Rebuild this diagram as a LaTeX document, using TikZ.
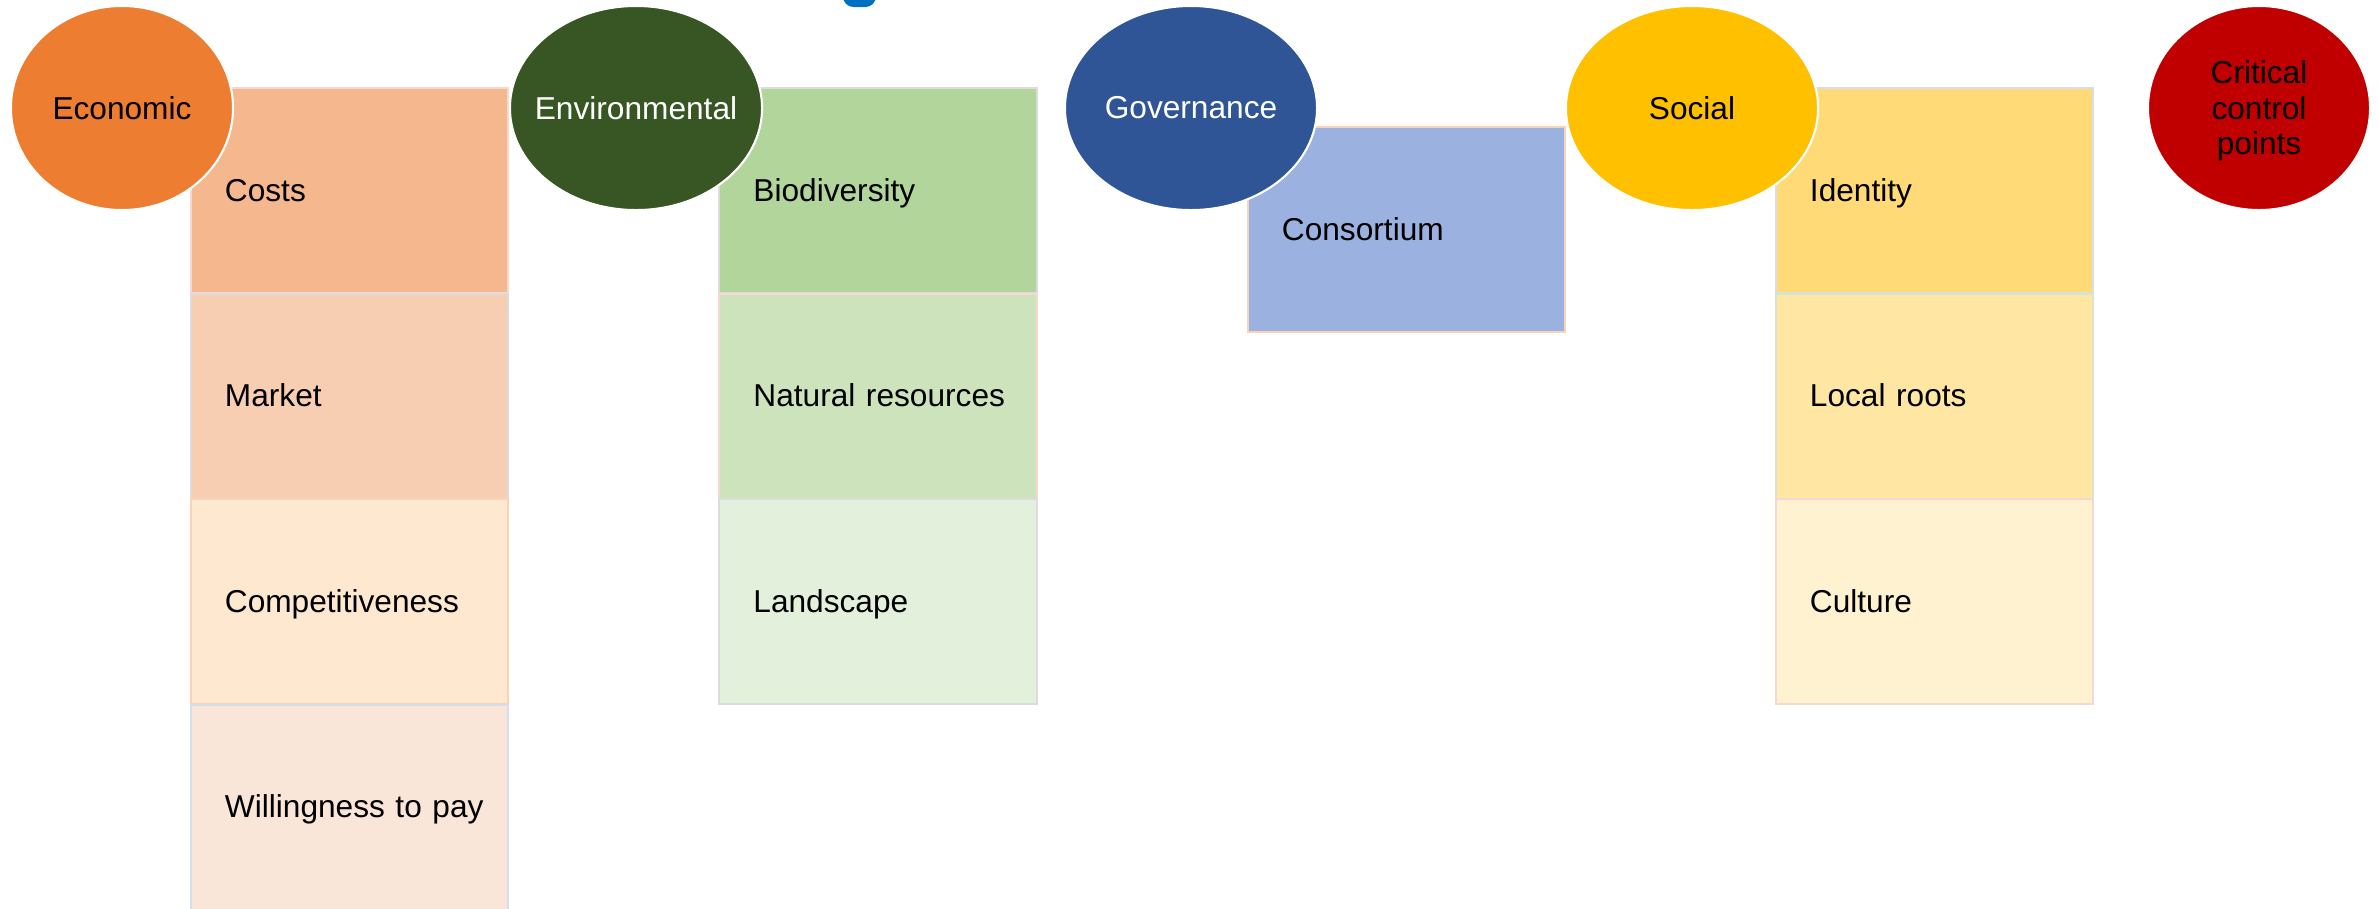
\documentclass[tikz,border=0pt]{standalone}
\usepackage{fontspec}
\setmainfont{Liberation Sans}
\usetikzlibrary{shapes.geometric}

\definecolor{ecoOrange}{HTML}{ED7D31}
\definecolor{envGreen}{HTML}{375623}
\definecolor{govBlue}{HTML}{2F5597}
\definecolor{socYellow}{HTML}{FFC000}
\definecolor{ccpRed}{HTML}{C00000}
\definecolor{tabBlue}{HTML}{0070C0}
% box fills
\definecolor{costsFill}{HTML}{F5B78E}
\definecolor{marketFill}{HTML}{F8CEB3}
\definecolor{compFill}{HTML}{FFE8D0}
\definecolor{willFill}{HTML}{FAE6D9}
\definecolor{bioFill}{HTML}{B2D59B}
\definecolor{natFill}{HTML}{CCE3BC}
\definecolor{landFill}{HTML}{E3F0DC}
\definecolor{consFill}{HTML}{9BB1DF}
\definecolor{idFill}{HTML}{FFDA76}
\definecolor{rootsFill}{HTML}{FFE6A3}
\definecolor{cultFill}{HTML}{FFF2D0}
% box borders
\definecolor{lineGrey}{HTML}{DCDCDC}
\definecolor{linePink}{HTML}{F6D8D0}
\definecolor{lineBlue}{HTML}{D6DEEE}
\definecolor{lineGreen}{HTML}{D5E6CC}
\definecolor{lineOrange}{HTML}{F8D3B8}

\begin{document}
\begin{tikzpicture}[x=0.01cm,y=-0.01cm,font=\fontsize{9}{10}\selectfont,
  item/.style={rectangle,minimum width=3.17cm,minimum height=2.05cm,inner xsep=0.17cm,inner ysep=0pt,
    text width=2.83cm,align=left,execute at begin node={\hspace*{0.17cm}\rule[-2pt]{0pt}{10pt}},
    line width=0.6pt,outer sep=0pt},
  pillar/.style={ellipse,draw=white,line width=0.6pt,inner xsep=-0.4cm,inner ysep=0pt,minimum height=2.04cm,align=center}]
\useasboundingbox (0,0) rectangle (2379,908);
\fill[tabBlue,rounded corners=3pt] (843,-20) rectangle (876,7); % tab cut by the top edge
% economic column
\foreach \lbl/\fc/\bc [count=\i] in {Costs/costsFill/linePink,Market/marketFill/lineGrey,
  Competitiveness/compFill/lineOrange,Willingness to pay/willFill/lineBlue}
\node[item,fill=\fc,draw=\bc] (eco-\i) at (349.5,{190.75+205.5*(\i-1)}) {\lbl};
% environmental column
\foreach \lbl/\fc/\bc [count=\i] in {Biodiversity/bioFill/lineGrey,Natural resources/natFill/linePink,
  Landscape/landFill/lineGrey}
\node[item,fill=\fc,draw=\bc] (env-\i) at (878,{190.75+205.5*(\i-1)}) {\lbl};
% governance
\node[item,fill=consFill,draw=lineOrange] (gov-1) at (1406.5,229.5) {Consortium};
% social column
\foreach \lbl/\fc/\bc [count=\i] in {Identity/idFill/lineBlue,Local roots/rootsFill/lineGreen,
  Culture/cultFill/linePink}
\node[item,fill=\fc,draw=\bc] (soc-\i) at (1934.5,{190.75+205.5*(\i-1)}) {\lbl};
% pillars on top
\node[pillar,fill=ecoOrange,minimum width=2.22cm] (economic) at (122,108) {Economic};
\node[pillar,fill=envGreen,text=white,minimum width=2.52cm] (environmental) at (636,108) {Environmental};
\node[pillar,fill=govBlue,text=white,minimum width=2.52cm] (governance) at (1191,108) {Governance};
\node[pillar,fill=socYellow,minimum width=2.52cm] (social) at (1692,108) {Social};
\node[pillar,fill=ccpRed,minimum width=2.22cm] (critical) at (2259,108) {\rule{0pt}{8.2pt}Critical\\control\\points};
\end{tikzpicture}
\end{document}
